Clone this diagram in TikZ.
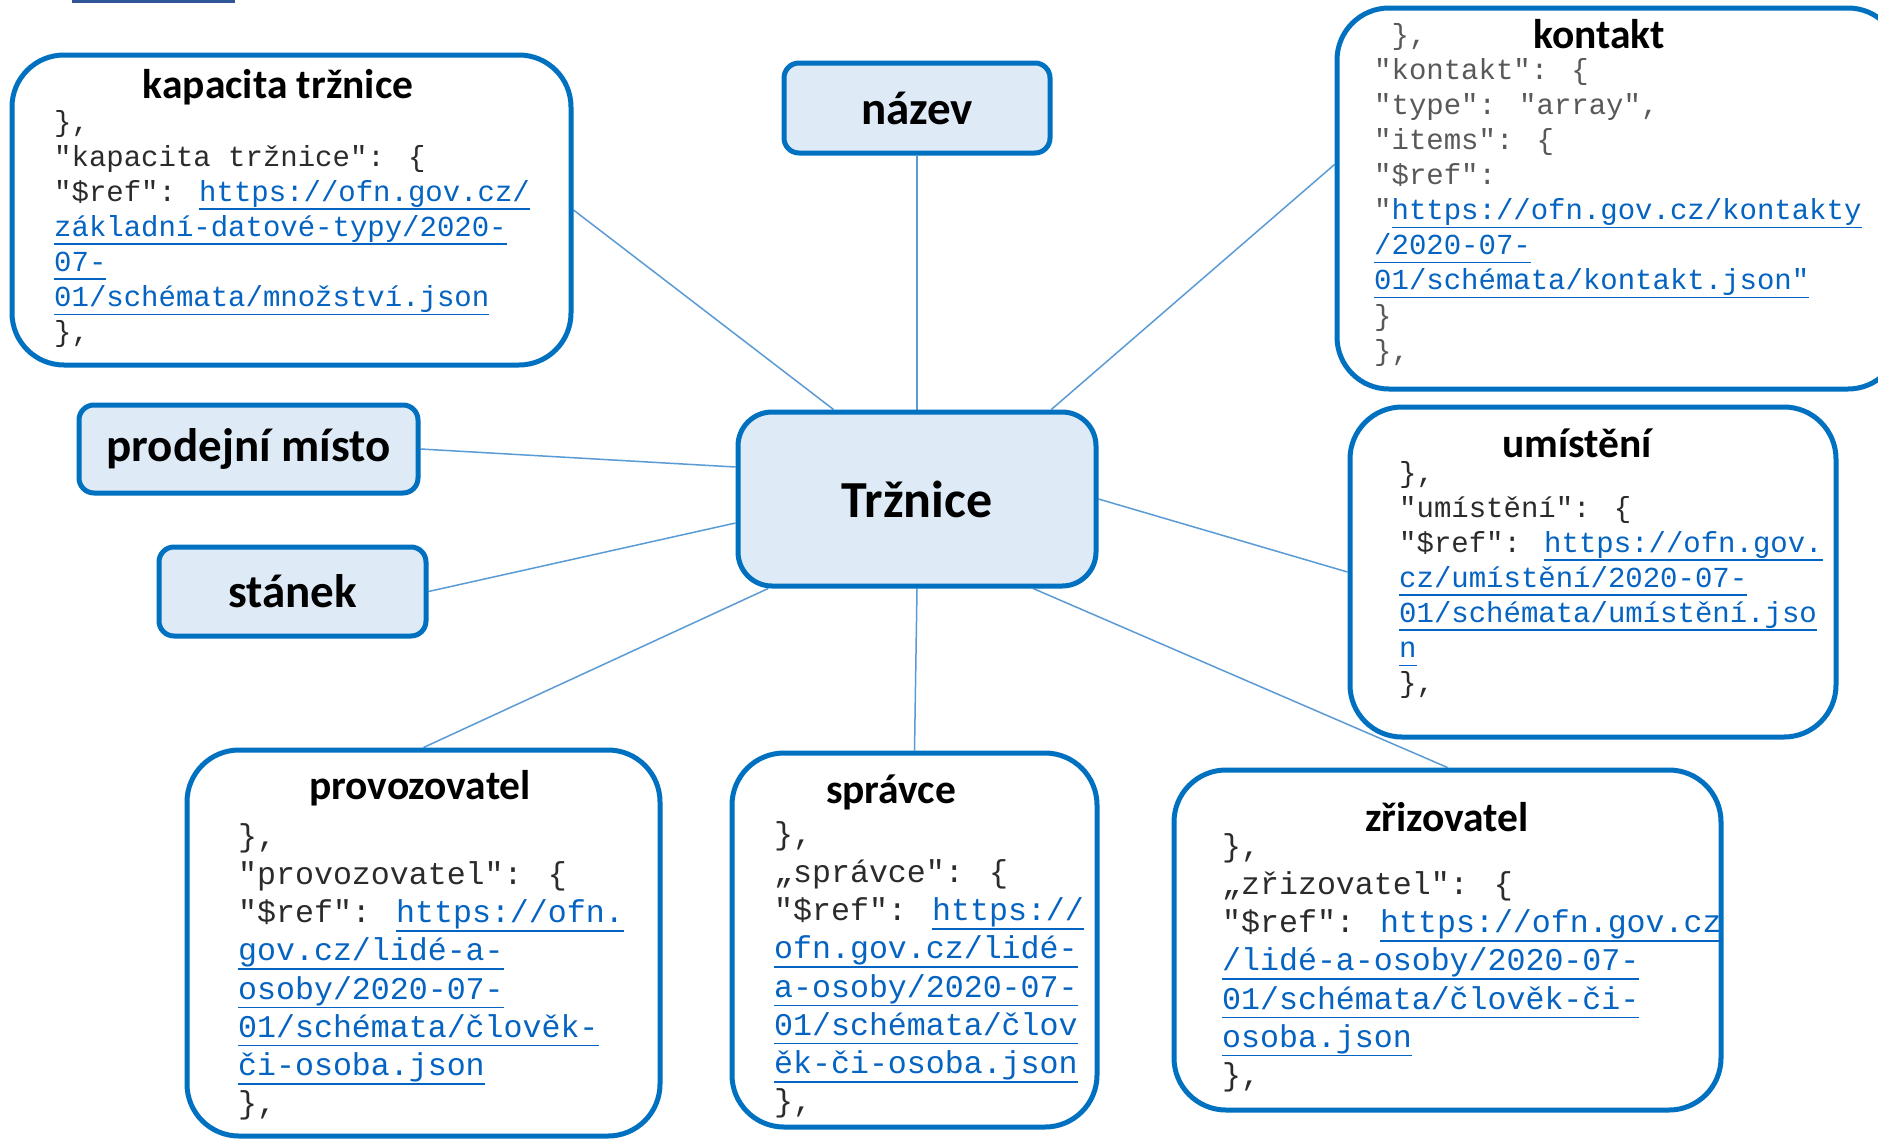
\documentclass[tikz,border=0pt]{standalone}
\usepackage{fontspec}
\setmainfont{Carlito}
\newfontfamily\codefont{Liberation Mono}
\usetikzlibrary{calc,backgrounds}
\definecolor{bordblue}{HTML}{0070C0}
\definecolor{fillblue}{HTML}{DEEBF7}
\definecolor{conblue}{HTML}{5B9BD5}
\definecolor{linkblue}{HTML}{0563C1}
\definecolor{codegray}{HTML}{2B2B2B}
\definecolor{softgray}{HTML}{595959}
\definecolor{barblue}{HTML}{2F5597}
\newsavebox\lnkbox
\newcommand\lnk[1]{\textcolor{linkblue}{\sbox\lnkbox{#1}\rlap{\rule[-0.29em]{\wd\lnkbox}{1.6pt}}\usebox\lnkbox}}
\newcommand\fstrut{\rule{0pt}{1em}}
\tikzset{
  codebox/.style={draw=bordblue, line width=5pt, rounded corners=52pt, fill=white, inner sep=0pt},
  keybox/.style={draw=bordblue, line width=5pt, rounded corners=15pt, fill=fillblue, inner sep=0pt,
    font=\bfseries\fontsize{47}{56}\selectfont},
  boxtitle/.style={inner sep=0pt, font=\bfseries\fontsize{41.5}{50}\selectfont},
  codeA/.style={inner sep=0pt, anchor=north west, align=left, text=codegray,
    font=\codefont\fontsize{29}{35.1}\selectfont},
  codeB/.style={inner sep=0pt, anchor=north west, align=left, text=codegray,
    font=\codefont\fontsize{31.6}{38.2}\selectfont},
  conn/.style={draw=conblue, line width=1.5pt},
}
\begin{document}
\begin{tikzpicture}[x=1pt,y=-1pt]
\useasboundingbox (0,0) rectangle (1878,1138);
\clip (0,0) rectangle (1878,1138);
\fill[barblue] (72,0) rectangle (235,3);

% boxes
\node[codebox, minimum width=559pt, minimum height=310pt] (kap) at (291.5,210) {};
\node[keybox, minimum width=266pt, minimum height=90pt] (naz) at (917,108) {název};
\node[codebox, minimum width=563pt, minimum height=381pt] (kon) at (1618.5,198.5) {};
\node[keybox, minimum width=339pt, minimum height=88pt] (pm) at (248.5,449) {prodejní místo};
\node[keybox, rounded corners=34pt, minimum width=358pt, minimum height=174pt,
      font=\bfseries\fontsize{52}{62}\selectfont] (tr) at (917,499) {Tržnice};
\node[codebox, minimum width=486pt, minimum height=330pt] (umi) at (1593,572) {};
\node[keybox, minimum width=267pt, minimum height=89pt] (st) at (292.5,591.5) {stánek};
\node[codebox, minimum width=473pt, minimum height=386pt] (prov) at (423.5,943) {};
\node[codebox, minimum width=365pt, minimum height=374pt] (spr) at (914.5,940) {};
\node[codebox, minimum width=547pt, minimum height=340pt] (zri) at (1447.5,940) {};

% connectors
\begin{pgfonlayer}{background}
\fill[white] (0,0) rectangle (1878,1138);
\draw[conn] (kap.east) -- ($(tr.north west)!0.27!(tr.north east)$);
\draw[conn] (naz.south) -- (tr.north);
\draw[conn] ([yshift=34pt]kon.west) -- ($(tr.north west)!0.87!(tr.north east)$);
\draw[conn] (pm.east) -- ([yshift=32pt]tr.west);
\draw[conn] (st.east) -- ([yshift=-24pt]tr.west);
\draw[conn] (umi.west) -- (tr.east);
\draw[conn] (prov.north) -- ($(tr.south west)!0.09!(tr.south east)$);
\draw[conn] (spr.north) -- (tr.south);
\draw[conn] (zri.north) -- ($(tr.south west)!0.82!(tr.south east)$);
\end{pgfonlayer}

% titles
\node[boxtitle] (kapt) at (278,87) {kapacita tržnice};
\node[boxtitle] (kont) at (1599,34) {kontakt};
\node[boxtitle] (umit) at (1577,443) {umístění};
\node[boxtitle] (provt) at (420,788) {provozovatel};
\node[boxtitle] (sprt) at (891,792) {správce};
\node[boxtitle] (zrit) at (1447,817) {zřizovatel};

% code
\node[codeA] (kapc) at (54,102) {\fstrut\},\\
"kapacita tržnice": \{\\
"\$ref": \lnk{https://ofn.gov.cz/}\\
\lnk{základní-datové-typy/2020-}\\
\lnk{07-}\\
\lnk{01/schémata/množství.json}\\
\},};

\node[codeA, text=softgray] (konc) at (1374,15) {\fstrut\phantom{\}}\},\\
"kontakt": \{\\
"type": "array",\\
"items": \{\\
"\$ref":\\
"\lnk{https://ofn.gov.cz/kontakty}\\
\lnk{/2020-07-}\\
\lnk{01/schémata/kontakt.json"}\\
\}\\
\},};

\node[codeA] (umic) at (1399,453) {\fstrut\},\\
"umístění": \{\\
"\$ref": \lnk{https://ofn.gov.}\\
\lnk{cz/umístění/2020-07-}\\
\lnk{01/schémata/umístění.jso}\\
\lnk{n}\\
\},};

\node[codeB] (provc) at (238,814.4) {\fstrut\},\\
"provozovatel": \{\\
"\$ref": \lnk{https://ofn.}\\
\lnk{gov.cz/lidé-a-}\\
\lnk{osoby/2020-07-}\\
\lnk{01/schémata/člověk-}\\
\lnk{či-osoba.json}\\
\},};

\node[codeB] (sprc) at (774,812.4) {\fstrut\},\\
„správce": \{\\
"\$ref": \lnk{https://}\\
\lnk{ofn.gov.cz/lidé-}\\
\lnk{a-osoby/2020-07-}\\
\lnk{01/schémata/člov}\\
\lnk{ěk-či-osoba.json}\\
\},};

\node[codeB] (zric) at (1222,824.4) {\fstrut\},\\
„zřizovatel": \{\\
"\$ref": \lnk{https://ofn.gov.cz}\\
\lnk{/lidé-a-osoby/2020-07-}\\
\lnk{01/schémata/člověk-či-}\\
\lnk{osoba.json}\\
\},};
\end{tikzpicture}
\end{document}
